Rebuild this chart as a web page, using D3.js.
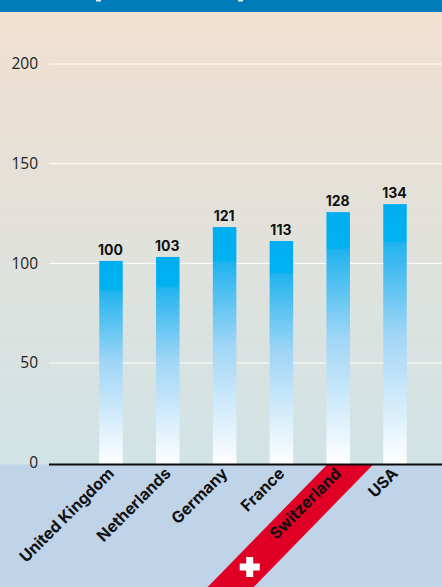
<!DOCTYPE html>
<html>
<head>
<meta charset="utf-8">
<script src="https://cdnjs.cloudflare.com/ajax/libs/d3/7.8.5/d3.min.js"></script>
<style>
  html, body { margin: 0; padding: 0; background: #c0d4e9; overflow: hidden; }
</style>
</head>
<body>
<div id="chart"></div>
<script>
const width = 442;
const height = 587;
const margin = { top: 12, right: 0, bottom: 122, left: 49 };
const axisY = height - margin.bottom - 0.5;

const countries = ["United Kingdom", "Netherlands", "Germany", "France", "Switzerland", "USA"];
// printed labels
const labels = [100, 103, 121, 113, 128, 134];
// bar heights as drawn in the picture (they differ a little from the labels)
const barValues = [101.2, 103.2, 118.2, 111.2, 125.7, 129.7];
const yTicks = [0, 50, 100, 150, 200];

const svg = d3.select("#chart")
  .append("svg")
  .attr("width", width)
  .attr("height", height)
  .style("display", "block");

const defs = svg.append("defs");

const bgGrad = defs.append("linearGradient")
  .attr("id", "bg")
  .attr("x1", 0).attr("y1", 0).attr("x2", 0).attr("y2", 1);
bgGrad.append("stop").attr("offset", "0%").attr("stop-color", "#f1e0d0");
bgGrad.append("stop").attr("offset", "100%").attr("stop-color", "#d1e3e6");

const barGrad = defs.append("linearGradient")
  .attr("id", "bar")
  .attr("x1", 0).attr("y1", 0).attr("x2", 0).attr("y2", 1);
barGrad.append("stop").attr("offset", "0%").attr("stop-color", "#00aeef");
barGrad.append("stop").attr("offset", "14%").attr("stop-color", "#00b1f0");
barGrad.append("stop").attr("offset", "15%").attr("stop-color", "#22b3ee");
barGrad.append("stop").attr("offset", "50%").attr("stop-color", "#a0d6f6");
barGrad.append("stop").attr("offset", "100%").attr("stop-color", "#ffffff");

const x = d3.scaleBand()
  .domain(countries)
  .range([82.6, 423.4])
  .paddingInner(0.586)
  .paddingOuter(0.293);

// zero sits a little above the baseline in the picture
const y = d3.scaleLinear()
  .domain([0, 200])
  .range([462.7, 64]);

// lower panel and plot background
svg.append("rect")
  .attr("width", width).attr("height", height)
  .attr("fill", "#c0d4e9");
svg.append("rect")
  .attr("y", margin.top)
  .attr("width", width)
  .attr("height", axisY - margin.top)
  .attr("fill", "url(#bg)");

// header strip
svg.append("rect")
  .attr("width", width).attr("height", margin.top)
  .attr("fill", "#007db8");
// what is left of the cut off heading
[96, 238].forEach(px => {
  svg.append("rect")
    .attr("x", px).attr("y", 0)
    .attr("width", 5).attr("height", 1.5)
    .attr("fill", "#dfeef6");
});

// gridlines
svg.append("g")
  .selectAll("line")
  .data(yTicks.filter(d => d > 0))
  .enter()
  .append("line")
  .attr("x1", margin.left)
  .attr("x2", width)
  .attr("y1", d => y(d))
  .attr("y2", d => y(d))
  .attr("stroke", "#ffffff")
  .attr("stroke-width", 1);

// red Swiss ribbon behind the Switzerland label
const swissX = x("Switzerland") + x.bandwidth() / 2;
svg.append("polygon")
  .attr("points", [
    [swissX - 11, axisY], [swissX + 35, axisY],
    [swissX - 84.5, height], [swissX - 130.5, height]
  ].join(" "))
  .attr("fill", "#e10025");

const crossX = swissX - 88.5;
const crossY = 567;
svg.append("path")
  .attr("d", `M${crossX - 3.5},${crossY - 10}h7v6.5h6.5v7h-6.5v6.5h-7v-6.5h-6.5v-7h6.5z`)
  .attr("fill", "#ffffff");

// bars
const data = countries.map((c, i) => ({ country: c, label: labels[i], value: barValues[i] }));

svg.append("g")
  .selectAll("rect")
  .data(data)
  .enter()
  .append("rect")
  .attr("x", d => x(d.country))
  .attr("y", d => y(d.value))
  .attr("width", x.bandwidth())
  .attr("height", d => axisY - y(d.value))
  .attr("fill", "url(#bar)");

svg.append("g")
  .selectAll("text")
  .data(data)
  .enter()
  .append("text")
  .attr("x", d => x(d.country) + x.bandwidth() / 2 - 0.5)
  .attr("y", d => y(d.value) - 6)
  .attr("text-anchor", "middle")
  .attr("font-family", "Inter, sans-serif")
  .attr("font-size", 14)
  .attr("font-weight", 700)
  .attr("fill", "#111111")
  .text(d => d.label);

// y axis
const yAxis = svg.append("g")
  .attr("transform", `translate(${margin.left},0)`)
  .call(d3.axisLeft(y).tickValues(yTicks).tickSize(0).tickPadding(11));
yAxis.select(".domain").remove();
yAxis.selectAll("text")
  .attr("font-family", '"Open Sans", sans-serif')
  .attr("font-size", 15.5)
  .attr("fill", "#222222");

// x axis
const xAxis = svg.append("g")
  .attr("transform", `translate(0,${axisY})`)
  .call(d3.axisBottom(x).tickSize(0).tickPadding(0));
xAxis.select(".domain").remove();
xAxis.selectAll("text")
  .attr("font-family", "Inter, sans-serif")
  .attr("font-size", 16)
  .attr("font-weight", 700)
  .attr("fill", "#111111")
  .attr("text-anchor", "end")
  .attr("dy", null)
  .attr("y", 0)
  .attr("transform", "translate(4,10) rotate(-45)");

svg.append("line")
  .attr("x1", margin.left)
  .attr("x2", width)
  .attr("y1", axisY)
  .attr("y2", axisY)
  .attr("stroke", "#0a0a0a")
  .attr("stroke-width", 2);
</script>
</body>
</html>
